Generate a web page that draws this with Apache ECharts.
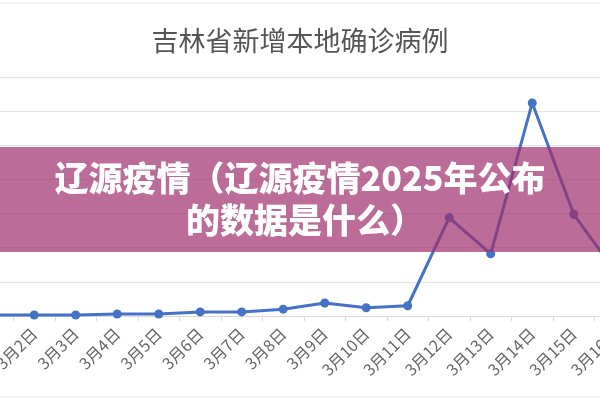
<!DOCTYPE html>
<html>
<head>
<meta charset="utf-8">
<script src="https://cdn.jsdelivr.net/npm/echarts@6/dist/echarts.min.js"></script>
<style>
html,body{margin:0;padding:0;background:#fff;width:600px;height:400px;overflow:hidden;position:relative;}
#c{position:absolute;left:-50px;top:0;width:700px;height:400px;}
</style>
</head>
<body>
<div id="c"></div>
<script>
const titleText = '吉林省新增本地确诊病例';
const bannerLines = ['辽源疫情（辽源疫情2025年公布', '的数据是什么）'];
const categories = ['3月1日','3月2日','3月3日','3月4日','3月5日','3月6日','3月7日','3月8日','3月9日','3月10日','3月11日','3月12日','3月13日','3月14日','3月15日','3月16日'];
const cases = [15, 15, 15, 30, 30, 60, 60, 100, 190, 120, 150, 1440, 910, 3120, 1490, 650];
const yMax = 3500;
const yInterval = 500;

// chart canvas is 700px wide and shifted 50px left, so page x = chart x - 50
const OFF = 50;
const bannerFont = {fill: '#ffffff', fontSize: 34, fontWeight: 900, fontFamily: 'Noto Sans CJK SC',
  align: 'center', verticalAlign: 'middle'};
const chart = echarts.init(document.getElementById('c'), null, {renderer: 'canvas'});
chart.setOption({
  animation: false,
  backgroundColor: '#ffffff',
  title: {
    text: titleText,
    left: 'center',
    top: 22,
    textStyle: {fontFamily: 'Noto Sans CJK SC', fontSize: 27, fontWeight: 'normal', color: '#555555'}
  },
  grid: {left: 14, right: 14, top: 77, bottom: 84, containLabel: false},
  xAxis: {
    type: 'category',
    data: categories,
    boundaryGap: true,
    axisLine: {lineStyle: {color: '#d9d9d9', width: 1}},
    axisTick: {show: true, length: 5, lineStyle: {color: '#d9d9d9'}},
    axisLabel: {rotate: 45, margin: 15, fontSize: 16, color: '#666666', fontFamily: 'Noto Sans CJK SC', interval: 0}
  },
  yAxis: {
    type: 'value',
    min: 0,
    max: yMax,
    interval: yInterval,
    axisLabel: {show: false},
    axisLine: {show: false},
    axisTick: {show: false},
    splitLine: {lineStyle: {color: '#e3e3e3', width: 1}}
  },
  series: [{
    type: 'line',
    data: cases,
    symbol: 'circle',
    symbolSize: 9,
    lineStyle: {color: '#4472C4', width: 3},
    itemStyle: {color: '#4472C4'},
    z: 2
  }],
  graphic: [
    {type: 'line', shape: {x1: OFF, y1: 3, x2: OFF + 600, y2: 3}, style: {stroke: '#e6e6e6', lineWidth: 1}, z: 1},
    {type: 'line', shape: {x1: OFF, y1: 397, x2: OFF + 600, y2: 397}, style: {stroke: '#e6e6e6', lineWidth: 1}, z: 1},
    {type: 'rect', shape: {x: OFF, y: 147, width: 600, height: 105}, style: {fill: 'rgba(158,45,108,0.7)'}, z: 100},
    {type: 'text', x: OFF + 300, y: 178, z: 101, style: Object.assign({text: bannerLines[0]}, bannerFont)},
    {type: 'text', x: OFF + 305, y: 220, z: 101, style: Object.assign({text: bannerLines[1]}, bannerFont)}
  ]
});
</script>
</body>
</html>
